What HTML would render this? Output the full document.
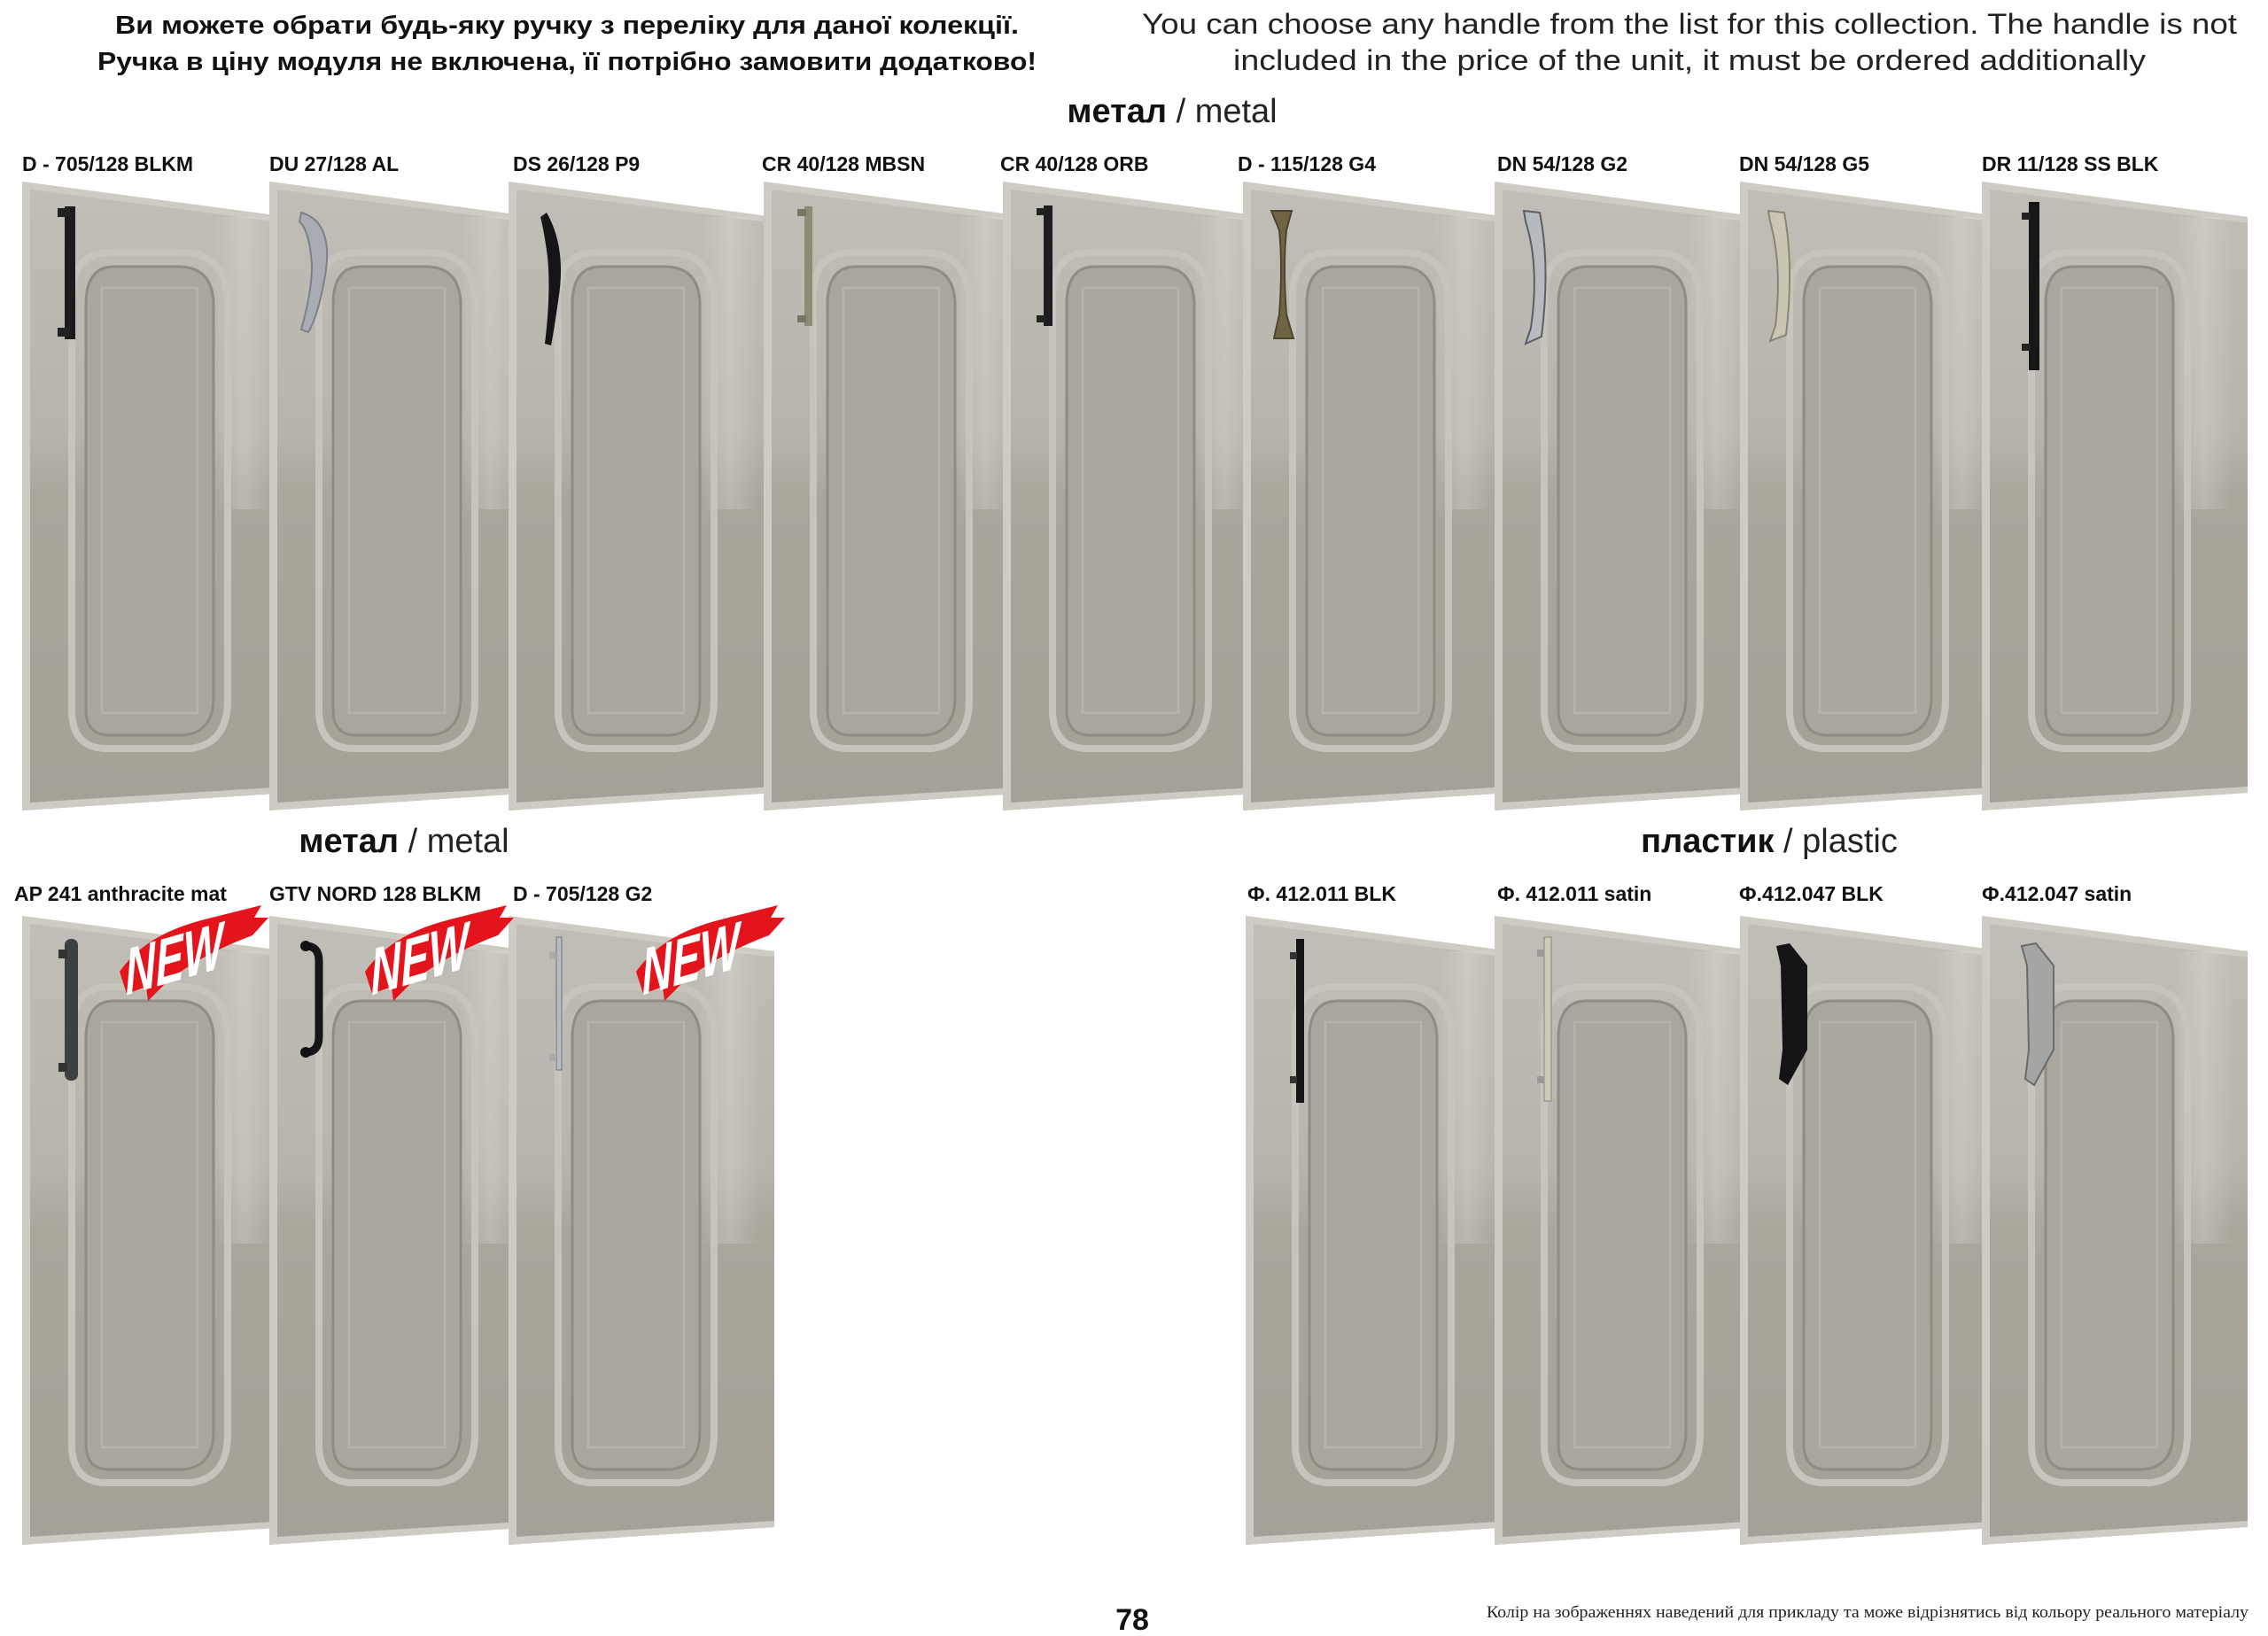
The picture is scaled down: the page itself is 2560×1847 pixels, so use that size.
<!DOCTYPE html>
<html><head><meta charset="utf-8"><style>
html,body{margin:0;padding:0;background:#fff;width:2560px;height:1847px;overflow:hidden}
svg{display:block}
.b{font-family:"Liberation Sans","DejaVu Sans",sans-serif;font-weight:bold;fill:#111}
.r{font-family:"Liberation Sans","DejaVu Sans",sans-serif;fill:#222}
</style></head><body>
<svg width="2560" height="1847" viewBox="0 0 2560 1847" xmlns="http://www.w3.org/2000/svg">
<defs>
<linearGradient id="dg" x1="0" y1="0" x2="0" y2="1">
<stop offset="0" stop-color="#c0beb6"/><stop offset="0.4" stop-color="#b6b4ab"/><stop offset="0.5" stop-color="#a9a69c"/><stop offset="1" stop-color="#a4a197"/>
</linearGradient>
<linearGradient id="hg" x1="0" y1="0" x2="1" y2="0">
<stop offset="0" stop-color="#fff" stop-opacity="0"/><stop offset="0.5" stop-color="#fff" stop-opacity="0.2"/><stop offset="1" stop-color="#fff" stop-opacity="0"/>
</linearGradient>
<g id="door">
<polygon points="0,0 300,40 300,690 0,710" fill="url(#dg)"/>
<polygon points="0,0 300,40 300,47 9,9 9,701 300,683 300,690 0,710" fill="#cdcbc4"/>
<rect x="215" y="40" width="70" height="330" fill="url(#hg)"/>
<path d="M100,80 H180 Q228,80 232,130 V585 Q232,635 190,640 H95 Q58,640 56,600 V125 Q58,80 100,80 Z" fill="none" stroke="#c6c4bd" stroke-width="8"/>
<path d="M104,96 H176 Q214,96 216,136 V582 Q216,622 182,625 H98 Q73,625 72,598 V136 Q73,96 104,96 Z" fill="#a9a69d" stroke="#8f8c83" stroke-width="3"/>
<path d="M90,120 H198 V600 H90 Z" fill="none" stroke="#b5b3ab" stroke-width="2.5"/>
</g>
<g id="new">
<path d="M0,75 C25,40 60,25 100,15 L160,0 L152,14 L168,14 L150,34 C120,45 85,62 55,85 L32,108 L30,92 L8,100 Z" fill="#e3141b"/>
<text x="30" y="95" transform="rotate(-16 30 95) skewX(-14)" font-family="Liberation Sans Narrow,Liberation Sans,sans-serif" font-weight="bold" font-style="italic" font-size="72" fill="#fff" textLength="115" lengthAdjust="spacingAndGlyphs">NEW</text>
</g>
</defs>

<text class="b" x="640" y="38" font-size="29" text-anchor="middle" textLength="1020" lengthAdjust="spacingAndGlyphs">Ви можете обрати будь-яку ручку з переліку для даної колекції.</text>
<text class="b" x="640" y="79" font-size="29" text-anchor="middle" textLength="1060" lengthAdjust="spacingAndGlyphs">Ручка в ціну модуля не включена, її потрібно замовити додатково!</text>
<text class="r" x="1907" y="38" font-size="32" text-anchor="middle" textLength="1236" lengthAdjust="spacingAndGlyphs">You can choose any handle from the list for this collection. The handle is not</text>
<text class="r" x="1907" y="79" font-size="32" text-anchor="middle" textLength="1030" lengthAdjust="spacingAndGlyphs">included in the price of the unit, it must be ordered additionally</text>

<text x="1323" y="138" font-size="38" text-anchor="middle"><tspan class="b">метал</tspan><tspan class="r"> / metal</tspan></text>
<text x="456" y="962" font-size="38" text-anchor="middle"><tspan class="b">метал</tspan><tspan class="r"> / metal</tspan></text>
<text x="1997" y="962" font-size="38" text-anchor="middle"><tspan class="b">пластик</tspan><tspan class="r"> / plastic</tspan></text>

<g class="b" font-size="23">
<text x="25" y="193">D - 705/128 BLKM</text>
<text x="304" y="193">DU 27/128 AL</text>
<text x="579" y="193">DS 26/128 P9</text>
<text x="860" y="193">CR 40/128 MBSN</text>
<text x="1129" y="193">CR 40/128 ORB</text>
<text x="1397" y="193">D - 115/128 G4</text>
<text x="1690" y="193">DN 54/128 G2</text>
<text x="1963" y="193">DN 54/128 G5</text>
<text x="2237" y="193">DR 11/128 SS BLK</text>
<text x="16" y="1017">AP 241 anthracite mat</text>
<text x="304" y="1017">GTV NORD 128 BLKM</text>
<text x="579" y="1017">D - 705/128 G2</text>
<text x="1408" y="1017">Ф. 412.011 BLK</text>
<text x="1690" y="1017">Ф. 412.011  satin</text>
<text x="1963" y="1017">Ф.412.047 BLK</text>
<text x="2237" y="1017">Ф.412.047 satin</text>
</g>

<use href="#door" x="25" y="205"/>
<use href="#door" x="304" y="205"/>
<use href="#door" x="574" y="205"/>
<use href="#door" x="862" y="205"/>
<use href="#door" x="1132" y="205"/>
<use href="#door" x="1403" y="205"/>
<use href="#door" x="1687" y="205"/>
<use href="#door" x="1964" y="205"/>
<use href="#door" x="2237" y="205"/>

<g>
<rect x="73" y="233" width="12" height="150" fill="#1b1b1b"/><rect x="65" y="235" width="14" height="10" fill="#222"/><rect x="65" y="370" width="14" height="10" fill="#222"/>
<path d="M340,240 Q375,250 368,305 Q360,355 348,375 L340,372 Q352,330 352,300 Q350,262 338,250 Z" fill="#a9adb3" stroke="#7d8187" stroke-width="2"/>
<path d="M617,240 Q640,280 630,340 Q625,375 622,390 L615,388 Q622,330 618,290 Q614,260 610,245 Z" fill="#151515"/>
<rect x="908" y="233" width="9" height="135" fill="#8f8a76"/><rect x="900" y="236" width="10" height="8" fill="#7a7563"/><rect x="900" y="356" width="10" height="8" fill="#7a7563"/>
<rect x="1178" y="232" width="10" height="136" fill="#1d1d1d"/><rect x="1170" y="235" width="10" height="8" fill="#222"/><rect x="1170" y="356" width="10" height="8" fill="#222"/>
<path d="M1435,238 L1458,238 L1452,260 Q1448,300 1452,355 L1460,382 L1438,382 L1444,355 Q1448,300 1444,260 Z" fill="#6f6443" stroke="#4d4430" stroke-width="2"/>
<path d="M1720,238 L1738,240 Q1750,300 1740,380 L1722,388 L1728,370 Q1738,300 1722,250 Z" fill="#b7bbbf" stroke="#5b5e62" stroke-width="2"/>
<path d="M1996,238 L2014,240 Q2025,300 2016,378 L1998,385 L2004,368 Q2012,300 1998,250 Z" fill="#cbc6b3" stroke="#8a8675" stroke-width="2"/>
<rect x="2290" y="228" width="12" height="190" fill="#171717"/><rect x="2282" y="240" width="10" height="8" fill="#222"/><rect x="2282" y="388" width="10" height="8" fill="#222"/>
</g>

<use href="#door" x="25" y="1034"/>
<use href="#door" x="304" y="1034"/>
<use href="#door" x="574" y="1034"/>
<use href="#door" x="1406" y="1034"/>
<use href="#door" x="1687" y="1034"/>
<use href="#door" x="1964" y="1034"/>
<use href="#door" x="2237" y="1034"/>

<g>
<rect x="73" y="1060" width="15" height="160" rx="7" fill="#3e3f41"/><rect x="66" y="1072" width="10" height="10" fill="#333"/><rect x="66" y="1200" width="10" height="10" fill="#333"/>
<path d="M345,1068 Q360,1068 360,1085 V1170 Q360,1188 345,1188" fill="none" stroke="#151515" stroke-width="9"/>
<circle cx="345" cy="1068" r="6" fill="#111"/><circle cx="345" cy="1188" r="6" fill="#111"/>
<rect x="628" y="1058" width="6" height="150" fill="#b8bcc0" stroke="#6f7377" stroke-width="1"/><rect x="620" y="1075" width="8" height="8" fill="#aaa"/><rect x="620" y="1190" width="8" height="8" fill="#aaa"/>
<rect x="1463" y="1060" width="9" height="185" fill="#151515"/><rect x="1456" y="1075" width="8" height="8" fill="#333"/><rect x="1456" y="1215" width="8" height="8" fill="#333"/>
<rect x="1743" y="1058" width="8" height="185" fill="#cfcab7" stroke="#8a8675"/><rect x="1735" y="1072" width="8" height="8" fill="#999"/><rect x="1735" y="1215" width="8" height="8" fill="#999"/>
<path d="M2005,1068 L2020,1065 L2040,1090 L2040,1185 L2018,1225 L2008,1218 L2012,1185 L2010,1090 Z" fill="#141414"/>
<path d="M2282,1068 L2298,1065 L2318,1090 L2318,1185 L2296,1225 L2286,1218 L2290,1185 L2288,1090 Z" fill="#a4a6a4" stroke="#6a6c6a" stroke-width="2"/>
</g>

<use href="#new" x="135" y="1022"/>
<use href="#new" x="412" y="1022"/>
<use href="#new" x="718" y="1022"/>

<text class="b" x="1278" y="1840" font-size="34" text-anchor="middle">78</text>
<text x="2538" y="1826" font-family="Liberation Serif,serif" font-size="19" fill="#222" text-anchor="end" textLength="860" lengthAdjust="spacingAndGlyphs">Колір на зображеннях наведений для прикладу та може відрізнятись від кольору реального матеріалу</text>
</svg>
</body></html>
